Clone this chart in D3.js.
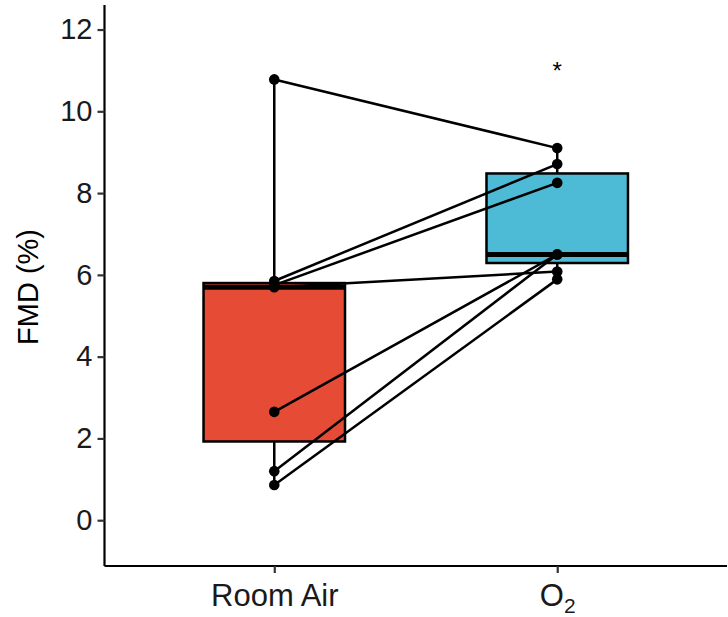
<!DOCTYPE html>
<html lang="en">
  <head>
    <meta charset="UTF-8" />
    <title>FMD boxplot</title>
    <script src="https://cdn.jsdelivr.net/npm/d3@7/dist/d3.min.js"></script>
    <style>
      body { margin: 0; background: #fff; }
      text { font-family: "Liberation Sans", Arial, sans-serif; }
    </style>
  </head>
  <body>
    <script>
      // data, one value per subject (paired)
      const categories = ["Room Air", "O2"];
      const roomAir = [10.78, 5.85, 5.75, 5.7, 2.65, 1.2, 0.86];
      const oxygen = [9.1, 8.71, 8.25, 6.08, 6.5, 6.5, 5.89];
      const colors = ["#E64B35", "#4DBBD5"];
      const yTicks = [0, 2, 4, 6, 8, 10, 12];
      const starValue = 11.1;

      const width = 728;
      const height = 617;
      const svg = d3
        .select("body")
        .append("svg")
        .attr("width", width)
        .attr("height", height);

      const plotLeft = 104.5;
      const plotRight = 727;
      const plotTop = 5;
      const plotBottom = 566;

      const x = d3.scalePoint().domain(categories).range([plotLeft, plotRight]).padding(0.6);
      const y = d3.scaleLinear().domain([-1.12, 12.6]).range([plotBottom, plotTop]);
      const boxW = x.step() * 0.5;

      const groups = [roomAir, oxygen];

      // boxes
      groups.forEach((vals, i) => {
        const s = vals.slice().sort(d3.ascending);
        const q1 = d3.quantile(s, 0.25);
        const med = d3.quantile(s, 0.5);
        const q3 = d3.quantile(s, 0.75);
        const iqr = q3 - q1;
        const lo = d3.min(s.filter((v) => v >= q1 - 1.5 * iqr));
        const hi = d3.max(s.filter((v) => v <= q3 + 1.5 * iqr));
        const cx = x(categories[i]);
        const g = svg.append("g");
        g.append("line")
          .attr("x1", cx).attr("x2", cx)
          .attr("y1", y(hi)).attr("y2", y(q3))
          .attr("stroke", "#000").attr("stroke-width", 2.5);
        g.append("line")
          .attr("x1", cx).attr("x2", cx)
          .attr("y1", y(q1)).attr("y2", y(lo))
          .attr("stroke", "#000").attr("stroke-width", 2.5);
        g.append("rect")
          .attr("x", cx - boxW / 2)
          .attr("y", y(q3))
          .attr("width", boxW)
          .attr("height", y(q1) - y(q3))
          .attr("fill", colors[i])
          .attr("stroke", "#000")
          .attr("stroke-width", 2.5);
        g.append("line")
          .attr("x1", cx - boxW / 2).attr("x2", cx + boxW / 2)
          .attr("y1", y(med)).attr("y2", y(med))
          .attr("stroke", "#000").attr("stroke-width", 5);
      });

      // paired lines
      svg
        .selectAll(".pair")
        .data(roomAir.map((v, i) => [v, oxygen[i]]))
        .enter()
        .append("line")
        .attr("class", "pair")
        .attr("x1", x(categories[0]))
        .attr("x2", x(categories[1]))
        .attr("y1", (d) => y(d[0]))
        .attr("y2", (d) => y(d[1]))
        .attr("stroke", "#000")
        .attr("stroke-width", 2.5);

      // points
      groups.forEach((vals, i) => {
        svg
          .append("g")
          .selectAll("circle")
          .data(vals)
          .enter()
          .append("circle")
          .attr("cx", x(categories[i]))
          .attr("cy", (d) => y(d))
          .attr("r", 5.3)
          .attr("fill", "#000");
      });

      // significance star
      svg
        .append("text")
        .attr("x", x(categories[1]))
        .attr("y", y(starValue) + 13)
        .attr("text-anchor", "middle")
        .attr("font-size", 24)
        .text("*");

      // axes
      const yAxis = svg
        .append("g")
        .attr("transform", `translate(${plotLeft},0)`)
        .call(d3.axisLeft(y).tickValues(yTicks).tickSize(7).tickPadding(5));
      const xAxis = svg
        .append("g")
        .attr("transform", `translate(0,${plotBottom})`)
        .call(d3.axisBottom(x).tickSize(7).tickPadding(6));

      [yAxis, xAxis].forEach((a) => {
        a.select(".domain").attr("stroke", "#000").attr("stroke-width", 2.2);
        a.selectAll(".tick line").attr("stroke", "#333").attr("stroke-width", 2.2);
        a.selectAll(".tick text").attr("fill", "#1a1a1a").attr("font-size", 29);
      });
      yAxis.select(".domain").attr("d", `M0,${plotTop}V${plotBottom}`);
      xAxis.select(".domain").attr("d", `M${plotLeft},0H${plotRight}`);

      // category labels with subscript
      xAxis.selectAll(".tick text").each(function (d) {
        const t = d3.select(this).text(null).attr("font-size", 31).attr("dy", "0.95em").attr("y", 11);
        if (d === "O2") {
          t.append("tspan").text("O");
          t.append("tspan").attr("font-size", 21).attr("dy", "0.3em").text("2");
        } else {
          t.text(d);
        }
      });

      // y title
      svg
        .append("text")
        .attr("transform", `translate(38,287) rotate(-90)`)
        .attr("text-anchor", "middle")
        .attr("font-size", 29)
        .attr("fill", "#000")
        .text("FMD (%)");
    </script>
  </body>
</html>
